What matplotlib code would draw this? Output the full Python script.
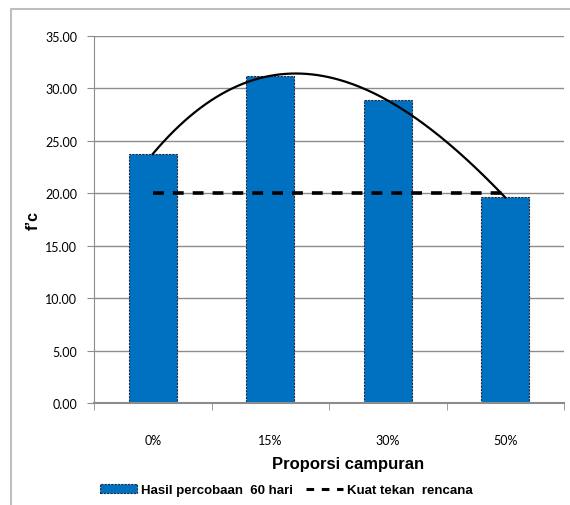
import numpy as np
import matplotlib
matplotlib.use("Agg")
import matplotlib.pyplot as plt
from matplotlib.patches import Rectangle
from matplotlib.lines import Line2D
from matplotlib import font_manager

categories = ["0%", "15%", "30%", "50%"]
hasil_60_hari = [23.75, 31.20, 28.85, 19.60]
kuat_tekan_rencana = [20.0, 20.0, 20.0, 20.0]
y_ticks = [0, 5, 10, 15, 20, 25, 30, 35]

names = {f.name for f in font_manager.fontManager.ttflist}
heading = "Liberation Sans" if "Liberation Sans" in names else "DejaVu Sans"
body = "Lato" if "Lato" in names else "DejaVu Sans"

W, H = 570, 506
fig = plt.figure(figsize=(W / 100, H / 100), dpi=100)

# chart frame
fig.add_artist(Rectangle((11 / W, -0.05), 1.2, 1 - 10 / H + 0.05,
                         transform=fig.transFigure, fill=False,
                         edgecolor="#BFBFBF", linewidth=1.5))

ax = fig.add_axes([94 / W, 1 - 404 / H, (564 - 94) / W, (404 - 37) / H])
x = np.arange(1, len(categories) + 1)

ax.set_axisbelow(True)
ax.grid(axis="y", color="#8C8C8C", linewidth=1)

ax.bar(x, hasil_60_hari, width=0.41, color="#0070C0",
       edgecolor="#1F2A44", linewidth=0.8, linestyle=(0, (2, 1)), zorder=2)

# cubic trend through the test results
coef = np.polyfit(x, hasil_60_hari, 3)
xs = np.linspace(x[0], x[-1], 200)
ax.plot(xs, np.polyval(coef, xs), color="black", linewidth=1.6, zorder=3)

ax.plot(x, kuat_tekan_rencana, color="black", linewidth=2.6,
        dashes=(3, 2.5), zorder=4)

ax.set_xlim(0.5, len(categories) + 0.5)
ax.set_ylim(0, 35)
ax.set_yticks(y_ticks)
ax.set_yticklabels([f"{v:.2f}" for v in y_ticks], fontsize=9, family=body)
ax.set_xticks(x)
ax.set_xticklabels(categories, fontsize=9, family=body)
ax.tick_params(axis="x", length=0, pad=22)
ax.set_xticks(np.arange(0.5, len(categories) + 1, 1), minor=True)
ax.tick_params(axis="x", which="minor", length=5, color="#8C8C8C", direction="out")
ax.tick_params(axis="y", length=5, color="#8C8C8C", direction="out", pad=7)

for s in ["top", "right"]:
    ax.spines[s].set_visible(False)
ax.spines["left"].set_color("#8C8C8C")
ax.spines["bottom"].set_color("#8C8C8C")
ax.spines["bottom"].set_linewidth(1.5)

fig.text(33 / W, 1 - 221 / H, "f’c", rotation=90, fontsize=11.5,
         fontweight="bold", family=heading, ha="center", va="center")
fig.text(348 / W, 1 - 465 / H, "Proporsi campuran", fontsize=12,
         fontweight="bold", family=heading, ha="center", va="center")

handles = [
    Rectangle((0, 0), 1, 1, facecolor="#0070C0", edgecolor="#1F2A44",
              linewidth=0.8, linestyle=(0, (2, 1))),
    Line2D([0], [0], color="black", linewidth=2.2, dashes=(2.5, 2.5)),
]
fig.legend(handles, ["Hasil percobaan  60 hari", "Kuat tekan  rencana"],
           loc="center", bbox_to_anchor=(286 / W, 1 - 491 / H), ncol=2,
           frameon=False, prop={"family": heading, "weight": "bold", "size": 9.5},
           handlelength=2.8, handleheight=0.6, handletextpad=0.3,
           columnspacing=1.0)

fig.savefig("out.png", dpi=100)
